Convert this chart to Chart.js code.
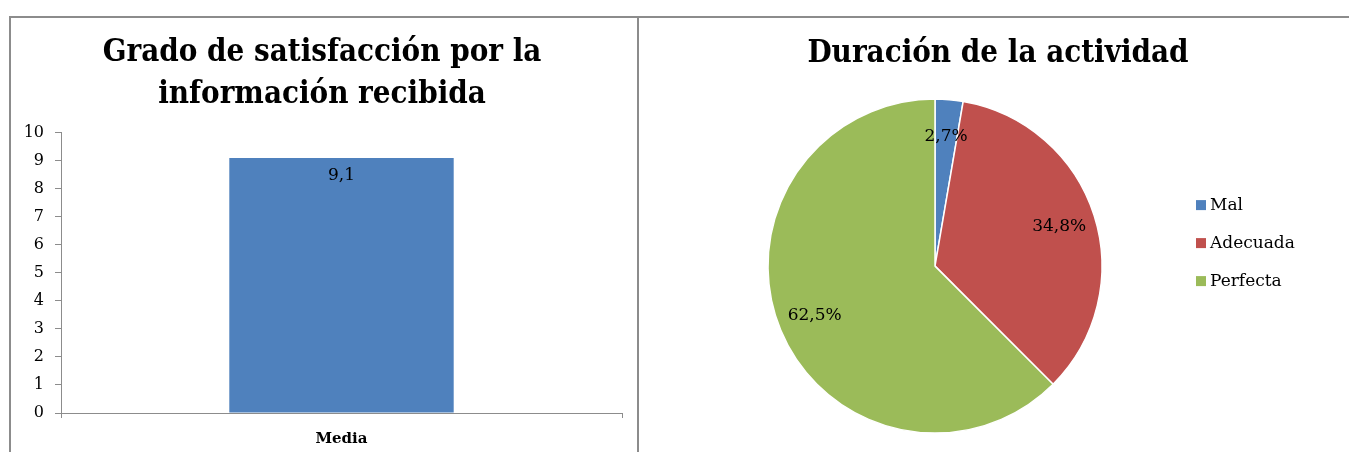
<!DOCTYPE html>
<html>
<head>
<meta charset="utf-8">
<script src="https://cdn.jsdelivr.net/npm/chart.js@4.4.0/dist/chart.umd.min.js"></script>
<style>
    body { margin: 0; background: #fff; width: 1349px; height: 452px; overflow: hidden; position: relative; }
    #frameL { position: absolute; left: 9px; top: 16px; width: 626px; height: 440px;
              border-left: 2px solid #8c8c8c; border-top: 2px solid #8c8c8c; border-right: 2px solid #8c8c8c; }
    #frameR { position: absolute; left: 639px; top: 16px; width: 710px; height: 0; border-top: 2px solid #8c8c8c; }
    #bar { position: absolute; left: 11px; top: 18px; }
    #pie { position: absolute; left: 640px; top: 18px; }
</style>
</head>
<body>
<div id="frameL"></div>
<div id="frameR"></div>
<canvas id="bar" width="626" height="434"></canvas>
<canvas id="pie" width="709" height="434"></canvas>
<script>
// --- data ---
const barTitle = ['Grado de satisfacción por la', 'información recibida'];
const barCategories = ['Media'];
const barValues = [9.1];
const yMin = 0;
const yMax = 10;
const yStep = 1;

const pieTitle = 'Duración de la actividad';
const pieLabels = ['Mal', 'Adecuada', 'Perfecta'];
const pieValues = [2.7, 34.8, 62.5];
const pieColors = ['#4F81BD', '#C0504D', '#9BBB59'];

const serif = "'DejaVu Serif', serif";
const titleFont = "'DejaVu Serif Condensed', 'DejaVu Serif', serif";

const fmt = v => v.toFixed(1).replace('.', ',');

// value label just under the top of each bar
const barLabels = {
    id: 'barLabels',
    afterDatasetsDraw(chart) {
        const ctx = chart.ctx;
        const meta = chart.getDatasetMeta(0);
        ctx.save();
        ctx.font = '17px ' + serif;
        ctx.fillStyle = '#000';
        ctx.textAlign = 'center';
        ctx.textBaseline = 'middle';
        meta.data.forEach((bar, i) => {
            ctx.fillText(fmt(chart.data.datasets[0].data[i]), bar.x, bar.y + 18);
        });
        ctx.restore();
    }
};

// percentage inside each slice
const sliceLabels = {
    id: 'sliceLabels',
    afterDatasetsDraw(chart) {
        const ctx = chart.ctx;
        const meta = chart.getDatasetMeta(0);
        ctx.save();
        ctx.font = '17px ' + serif;
        ctx.fillStyle = '#000';
        ctx.textAlign = 'center';
        ctx.textBaseline = 'middle';
        meta.data.forEach((arc, i) => {
            const mid = (arc.startAngle + arc.endAngle) / 2;
            const r = arc.outerRadius * 0.78;
            const label = fmt(chart.data.datasets[0].data[i]) + '%';
            ctx.fillText(label, arc.x + Math.cos(mid) * r, arc.y + Math.sin(mid) * r);
        });
        ctx.restore();
    }
};

// legend on the right: reserves its own layout box so the title stays centred on the panel
const sideLegend = {
    id: 'sideLegend',
    beforeInit(chart) {
        const box = {
            position: 'right',
            weight: 1000,
            fullSize: false,
            options: {},
            width: 0, height: 0, left: 0, top: 0, right: 0, bottom: 0,
            isHorizontal() { return false; },
            update(maxWidth, maxHeight) {
                this.width = 126;
                this.height = maxHeight;
            },
            draw() {
                const ctx = chart.ctx;
                const ds = chart.data.datasets[0];
                const midY = (this.top + this.bottom) / 2;
                ctx.save();
                ctx.font = '17px ' + serif;
                ctx.textBaseline = 'middle';
                ctx.textAlign = 'left';
                chart.data.labels.forEach((label, i) => {
                    const y = midY - 61 + i * 38;
                    ctx.fillStyle = ds.backgroundColor[i];
                    ctx.fillRect(this.left, y - 5, 10, 10);
                    ctx.fillStyle = '#000';
                    ctx.fillText(label, this.left + 14, y);
                });
                ctx.restore();
            }
        };
        Chart.layouts.addBox(chart, box);
    }
};

new Chart(document.getElementById('bar'), {
    type: 'bar',
    data: {
        labels: barCategories,
        datasets: [{
            data: barValues,
            backgroundColor: '#4F81BD',
            categoryPercentage: 1,
            barPercentage: 0.4
        }]
    },
    options: {
        responsive: false,
        animation: false,
        layout: { padding: { left: 11, right: 15, top: 0, bottom: 0 } },
        plugins: {
            legend: { display: false },
            tooltip: { enabled: false },
            title: {
                display: true,
                text: barTitle,
                color: '#000',
                font: { family: titleFont, size: 31, weight: 'bold', lineHeight: 1.35 },
                padding: { top: 14, bottom: 17 }
            }
        },
        scales: {
            y: {
                min: yMin,
                max: yMax,
                ticks: { stepSize: yStep, color: '#000', font: { family: serif, size: 16 }, padding: 11 },
                grid: { drawOnChartArea: false, tickLength: 6, color: '#8c8c8c' },
                border: { color: '#8c8c8c' },
                afterFit(scale) { scale.width = 39; }
            },
            x: {
                ticks: { color: '#000', font: { family: serif, size: 15, weight: 'bold' }, padding: 12 },
                grid: { offset: true, drawOnChartArea: false, tickLength: 5, color: '#8c8c8c' },
                border: { color: '#8c8c8c' },
                afterFit(scale) { scale.height = 39; }
            }
        }
    },
    plugins: [barLabels]
});

new Chart(document.getElementById('pie'), {
    type: 'pie',
    data: {
        labels: pieLabels,
        datasets: [{
            data: pieValues,
            backgroundColor: pieColors,
            borderColor: '#fff',
            borderWidth: 1.5
        }]
    },
    options: {
        responsive: false,
        animation: false,
        radius: 167,
        layout: { padding: { left: 34, right: 27, top: 0, bottom: 6 } },
        plugins: {
            legend: { display: false },
            tooltip: { enabled: false },
            title: {
                display: true,
                text: pieTitle,
                color: '#000',
                font: { family: titleFont, size: 31, weight: 'bold', lineHeight: 1.2 },
                padding: { top: 17, bottom: 14 }
            }
        }
    },
    plugins: [sliceLabels, sideLegend]
});
</script>
</body>
</html>
